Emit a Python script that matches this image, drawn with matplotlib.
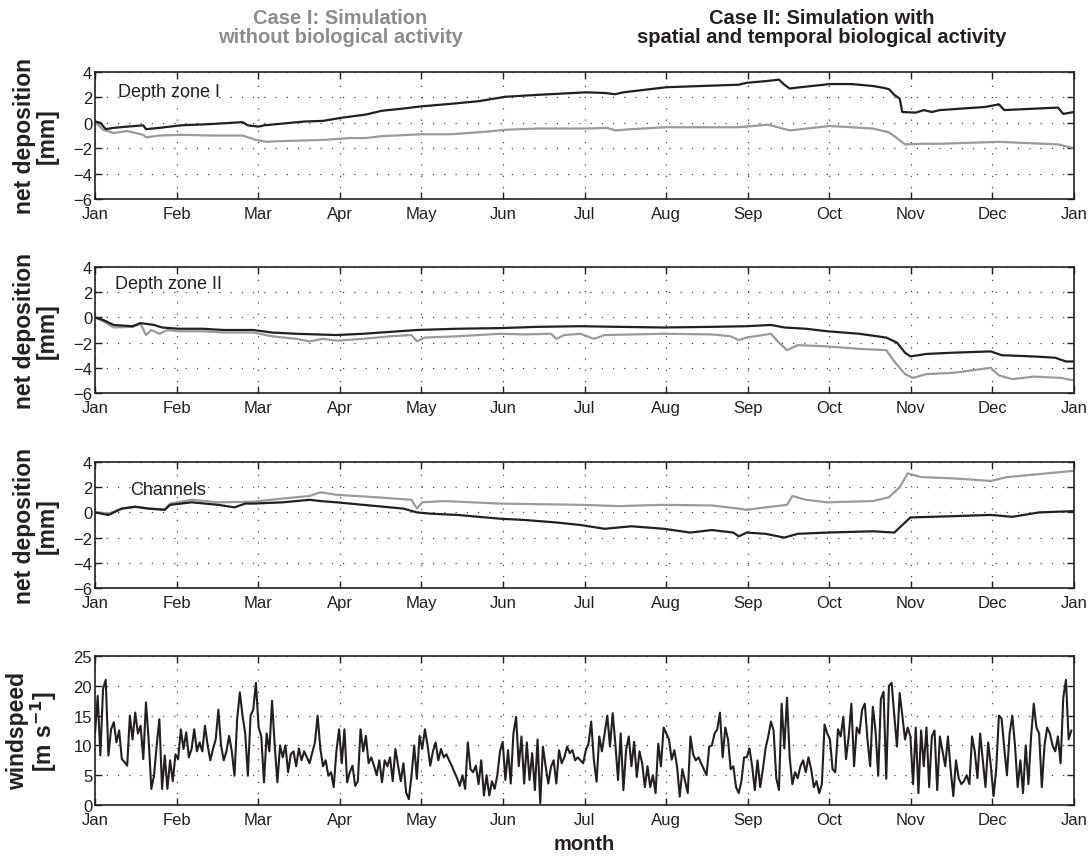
#!/usr/bin/env python3

# plot.py - net deposition in three depth zones and wind speed over one year

import numpy as np
import matplotlib
matplotlib.use("Agg")
import matplotlib.pyplot as plt

plt.rcParams['font.family'] = ['Liberation Sans', 'DejaVu Sans']

MONTHS = ['Jan', 'Feb', 'Mar', 'Apr', 'May', 'Jun', 'Jul', 'Aug',
          'Sep', 'Oct', 'Nov', 'Dec', 'Jan']

BLACK = '#231f20'
GREY = '#9a9a9a'

# depth zone I, (day of year, mm)
zone1_case2 = [(0, 0.1), (2, 0.0), (4, -0.5), (7, -0.4), (12, -0.3), (18, -0.2),
               (19, -0.5), (24, -0.4), (32, -0.2), (43, -0.1), (55, 0.05),
               (57, -0.2), (61, -0.3), (63, -0.2), (68, -0.1), (78, 0.1),
               (85, 0.15), (92, 0.4), (101, 0.65), (107, 0.95), (114, 1.1),
               (122, 1.3), (133, 1.5), (143, 1.7), (153, 2.05), (165, 2.2),
               (183, 2.4), (190, 2.35), (194, 2.25), (197, 2.4), (213, 2.8),
               (240, 3.0), (243, 3.15), (251, 3.3), (255, 3.4), (257, 3.0),
               (259, 2.7), (263, 2.8), (274, 3.05), (282, 3.05), (290, 2.9),
               (294, 2.75), (296, 2.65), (298, 2.2), (300, 1.9), (301, 0.85),
               (306, 0.8), (309, 1.0), (312, 0.85), (315, 1.0), (332, 1.25),
               (337, 1.45), (339, 1.0), (359, 1.2), (361, 0.7), (365, 0.85)]
zone1_case1 = [(0, 0.1), (3, -0.55), (7, -0.8), (12, -0.65), (18, -0.95),
               (19, -1.15), (24, -1.0), (32, -0.95), (43, -1.0), (55, -1.0),
               (60, -1.35), (64, -1.5), (68, -1.45), (85, -1.35), (95, -1.2),
               (101, -1.2), (107, -1.05), (122, -0.9), (133, -0.9), (146, -0.7),
               (153, -0.55), (165, -0.45), (183, -0.45), (191, -0.4),
               (194, -0.6), (200, -0.5), (213, -0.35), (240, -0.35),
               (251, -0.15), (259, -0.6), (274, -0.25), (290, -0.45),
               (296, -0.75), (298, -1.05), (302, -1.7), (309, -1.65),
               (315, -1.65), (337, -1.5), (359, -1.7), (365, -2.0)]

# depth zone II
zone2_case2 = [(0, 0), (3, -0.2), (7, -0.6), (14, -0.7), (17, -0.45), (22, -0.6),
               (25, -0.8), (31, -0.9), (40, -0.9), (48, -1.0), (59, -1.0),
               (66, -1.2), (75, -1.3), (90, -1.4), (100, -1.3), (110, -1.15),
               (120, -1.0), (135, -0.9), (151, -0.85), (165, -0.75), (181, -0.7),
               (195, -0.75), (212, -0.8), (230, -0.75), (243, -0.7), (252, -0.6),
               (257, -0.8), (265, -0.9), (273, -1.1), (285, -1.3), (295, -1.6),
               (299, -2.0), (302, -2.8), (304, -3.1), (310, -2.9), (320, -2.8),
               (334, -2.7), (338, -3.0), (350, -3.1), (358, -3.2), (362, -3.5),
               (365, -3.5)]
zone2_case1 = [(0, 0), (3, -0.3), (7, -0.8), (14, -0.75), (17, -0.5), (19, -1.4),
               (21, -1.0), (24, -1.3), (27, -1.0), (31, -1.1), (40, -1.1),
               (48, -1.2), (59, -1.2), (66, -1.5), (75, -1.7), (80, -1.9),
               (85, -1.7), (90, -1.85), (100, -1.7), (110, -1.5), (118, -1.4),
               (120, -1.9), (123, -1.6), (135, -1.5), (151, -1.3), (160, -1.35),
               (170, -1.3), (172, -1.7), (175, -1.4), (181, -1.3), (186, -1.7),
               (190, -1.4), (212, -1.3), (230, -1.35), (237, -1.5), (240, -1.8),
               (243, -1.6), (252, -1.3), (255, -2.0), (258, -2.6), (262, -2.2),
               (273, -2.3), (285, -2.5), (295, -2.6), (298, -3.5), (302, -4.5),
               (305, -4.8), (310, -4.5), (320, -4.4), (334, -4.0), (337, -4.6),
               (342, -4.9), (350, -4.7), (360, -4.8), (365, -5.0)]

# channels
chan_case2 = [(0, 0), (5, -0.2), (10, 0.3), (15, 0.45), (20, 0.3), (26, 0.2),
              (28, 0.6), (36, 0.8), (46, 0.6), (52, 0.4), (56, 0.7), (59, 0.7),
              (70, 0.8), (80, 1.0), (84, 0.9), (90, 0.8), (105, 0.5), (115, 0.3),
              (120, 0.0), (125, -0.1), (135, -0.2), (151, -0.5), (160, -0.6),
              (172, -0.8), (181, -1.0), (190, -1.3), (200, -1.1), (212, -1.3),
              (222, -1.6), (230, -1.4), (238, -1.6), (240, -1.9), (243, -1.6),
              (250, -1.7), (257, -2.0), (262, -1.7), (273, -1.6), (290, -1.5),
              (298, -1.6), (301, -1.0), (304, -0.4), (320, -0.3), (334, -0.2),
              (342, -0.35), (352, 0.0), (365, 0.1)]
chan_case1 = [(0, 0), (5, -0.1), (10, 0.3), (15, 0.45), (20, 0.3), (26, 0.25),
              (28, 0.7), (36, 1.0), (46, 0.8), (59, 0.85), (70, 1.1), (80, 1.3),
              (84, 1.6), (90, 1.4), (105, 1.2), (118, 1.0), (120, 0.3), (122, 0.8),
              (130, 0.9), (151, 0.7), (181, 0.6), (195, 0.5), (212, 0.6),
              (230, 0.55), (240, 0.3), (243, 0.2), (250, 0.4), (258, 0.6),
              (260, 1.3), (265, 1.0), (273, 0.8), (290, 0.9), (296, 1.2),
              (300, 2.0), (303, 3.1), (308, 2.8), (320, 2.7), (334, 2.5),
              (340, 2.8), (350, 3.0), (360, 3.2), (365, 3.3)]

# daily wind speed [m/s], one list per month
wind_jan = [12, 18.3, 8.3, 19.5, 21, 8.3, 12.7, 13.9, 10.5, 12.5, 7.7, 7.2, 6.6,
            15, 11, 15.5, 12, 13.3, 7.7, 17.2, 11, 2.7, 4.9, 10, 14.4, 2.7, 8.3,
            2.7, 7.5, 4, 8.5]
wind_feb = [7.7, 12.7, 9.4, 12.2, 8, 9.4, 12.7, 9, 10.5, 9, 13.3, 10, 7.5, 9.4,
            11, 16, 10, 7.5, 9, 11.6, 9, 4.9, 14.4, 18.9, 15, 12, 4.9, 15]
wind_mar = [16, 20.5, 13, 11.5, 3.8, 12, 9, 17.5, 10, 3.8, 10, 8, 10, 5.5, 8.5,
            9, 6.5, 9.5, 7.5, 9, 8, 7, 8.8, 10.5, 15, 9.5, 6.5, 7.5, 4.9, 5.5, 3]
wind_apr = [9, 12.7, 7, 12.7, 3.8, 5.5, 6.6, 3.2, 4, 12.7, 9, 11.6, 7, 8, 6.6, 5,
            7.5, 3.8, 7.5, 6.5, 8, 4, 9.4, 6.6, 4, 7, 2.1, 1, 4.9, 10]
wind_may = [4.4, 11.6, 9.4, 12.7, 10, 6.6, 9, 10.5, 7.5, 9.4, 8, 8.5, 7.5, 6.6,
            5.5, 4.5, 3.2, 5, 2.7, 10.5, 6, 5.5, 6.6, 3.5, 7.5, 1.6, 5, 1.6, 4,
            2.7, 5]
wind_jun = [9, 10.6, 4.2, 9.2, 3.6, 12, 14.8, 6.5, 11.5, 3.6, 10.5, 4.2, 8.7, 2.5,
            11, 0.3, 9.8, 6.5, 3.6, 6.4, 7.5, 3.6, 9.2, 7, 8, 9.8, 8.7, 9.2, 7.5, 8]
wind_jul = [7.5, 7, 9.2, 10.3, 14, 7.5, 3.9, 11.5, 9, 12, 15, 9.8, 15.4, 10.3,
            4.2, 12, 2.5, 9.2, 11.5, 6.5, 10.6, 4.7, 9, 7, 3, 6.5, 3, 5, 2, 10.3,
            6.5]
wind_aug = [13, 12, 11, 7.6, 9.2, 6.5, 1.4, 6, 4, 2, 11.5, 8.5, 7.5, 8, 7, 6, 5,
            9.8, 10, 12, 12.7, 15.5, 8, 13, 11, 6, 6.5, 3, 2, 4, 8]
wind_sep = [8, 9.5, 6.5, 2.5, 7.5, 3, 6, 9.5, 11.5, 14, 12.5, 4.5, 2.5, 17, 9.5,
            18, 8, 3.5, 5.5, 4.5, 6.5, 7.5, 5.5, 8, 6, 3, 4, 2, 3.5, 13.5]
wind_oct = [12, 11, 6, 5.5, 12.7, 11.5, 14.8, 7.7, 11.5, 17, 6.5, 13, 12, 16, 17,
            11, 6.5, 16.5, 12.5, 4.9, 17.8, 19, 4.4, 20, 20.5, 15, 9.8, 18.8, 15,
            11, 13]
wind_nov = [11.5, 3.5, 13, 2, 12.5, 6.5, 13, 3, 11.5, 12.5, 2.5, 11.5, 9, 6.5,
            11.5, 6, 1.5, 7.5, 4.5, 3.5, 4, 5, 3.5, 11.5, 9, 4.5, 12, 7.5, 3, 10.5]
wind_dec = [6.5, 1.5, 6, 15, 14.5, 9.5, 5, 12, 15, 10, 3, 7.5, 2, 10, 3.5, 11.5,
            17, 13, 12, 3, 10, 13, 12, 10, 9, 11.5, 7, 18, 21, 11, 12.5]

windspeed = (wind_jan + wind_feb + wind_mar + wind_apr + wind_may + wind_jun +
             wind_jul + wind_aug + wind_sep + wind_oct + wind_nov + wind_dec)

W, H = 1091, 862


def box(left, top, right, bottom):
    return [left / W, 1 - bottom / H, (right - left) / W, (bottom - top) / H]


def style(ax, yticks, ylim):
    ax.set_xlim(0, 365)
    ax.set_xticks(np.linspace(0, 365, 13))
    ax.set_xticklabels(MONTHS)
    ax.set_ylim(*ylim)
    ax.set_yticks(yticks)
    ax.tick_params(direction='in', top=True, right=True, length=5, width=1,
                   labelsize=12, colors=BLACK)
    ax.tick_params(axis='x', pad=5)
    ax.tick_params(axis='y', pad=2)
    ax.grid(True, linestyle=(0, (1, 8)), color='#444444', linewidth=0.9)
    for sp in ax.spines.values():
        sp.set_linewidth(1.2)
        sp.set_color(BLACK)


fig = plt.figure(figsize=(W / 100, H / 100), dpi=100)

panels = [
    (box(95, 73, 1074, 200), zone1_case1, zone1_case2, 'Depth zone I', 0.023, 0.85),
    (box(95, 268, 1074, 394), zone2_case1, zone2_case2, 'Depth zone II', 0.02, 0.87),
    (box(95, 463, 1074, 589), chan_case1, chan_case2, 'Channels', 0.036, 0.78),
]

for pos, case1, case2, name, tx, ty in panels:
    ax = fig.add_axes(pos)
    d1, v1 = zip(*case1)
    d2, v2 = zip(*case2)
    ax.plot(d1, v1, color=GREY, lw=1.6)
    ax.plot(d2, v2, color=BLACK, lw=1.6)
    style(ax, [-6, -4, -2, 0, 2, 4], (-6, 4))
    ax.text(tx, ty, name, transform=ax.transAxes, fontsize=13, va='center',
            color=BLACK)
    ax.set_ylabel('net deposition\n[mm]', fontsize=16.5, fontweight='bold',
                  linespacing=1.0, color=BLACK)
    ax.yaxis.set_label_coords(-0.037, 0.5)

ax = fig.add_axes(box(95, 657, 1074, 806))
ax.plot(np.arange(len(windspeed)), windspeed, color=BLACK, lw=1.5)
style(ax, [0, 5, 10, 15, 20, 25], (0, 25))
ax.set_ylabel('windspeed\n[m s$^{\\mathbf{-1}}$]', fontsize=16.5,
              fontweight='bold', linespacing=1.0, color=BLACK)
ax.yaxis.set_label_coords(-0.037, 0.5)
ax.set_xlabel('month', fontsize=14.5, fontweight='bold', color=BLACK,
              labelpad=5)

fig.text(0.3117, 0.968, 'Case I: Simulation\nwithout biological activity',
         ha='center', va='center', fontsize=14.5, fontweight='bold',
         color='#8c8c8c', linespacing=1.0)
fig.text(0.7534, 0.968, 'Case II: Simulation with\nspatial and temporal biological activity',
         ha='center', va='center', fontsize=14.5, fontweight='bold',
         color=BLACK, linespacing=1.0)

fig.savefig('out.png', dpi=100)
